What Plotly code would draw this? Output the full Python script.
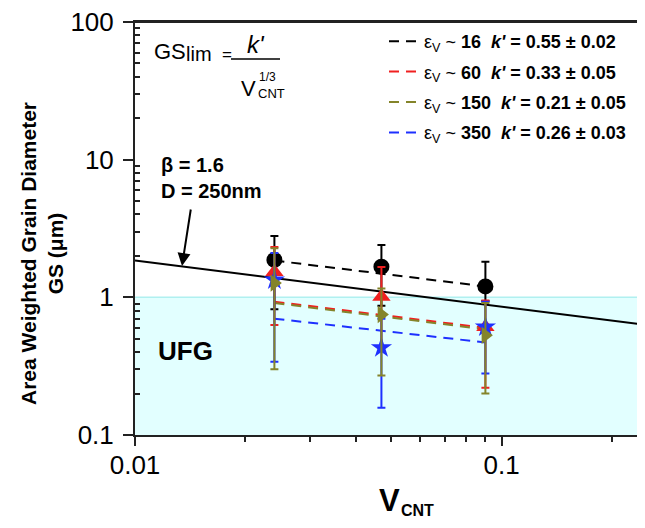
import plotly.graph_objects as go

# ---------------- data ----------------
v_cnt = [0.024, 0.047, 0.0903]

gs_16 = [1.87, 1.67, 1.20]
gs_16_hi = [2.79, 2.40, 1.81]
gs_16_lo = [0.82, 0.87, 0.94]

gs_60 = [1.53, 1.01, 0.61]
gs_60_hi = [2.32, 1.66, 0.95]
gs_60_lo = [0.63, 0.43, 0.22]

gs_150 = [1.27, 0.75, 0.53]
gs_150_hi = [2.27, 1.16, 0.91]
gs_150_lo = [0.30, 0.27, 0.20]

gs_350 = [1.34, 0.43, 0.61]
gs_350_hi = [2.10, 0.70, 0.93]
gs_350_lo = [0.34, 0.158, 0.28]

fit_x = [0.024, 0.0903]
fit_16 = [1.85, 1.20]
fit_60 = [0.93, 0.60]
fit_150 = [0.91, 0.585]
fit_350 = [0.70, 0.47]

limit_x = [0.01, 0.25]
limit_gs = [1.85, 0.63]

legend_names = [
    "ε<sub>V</sub> ~ <b>16</b>\u00a0\u00a0<b><i>k'</i> = 0.55 ± 0.02</b>",
    "ε<sub>V</sub> ~ <b>60</b>\u00a0\u00a0<b><i>k'</i> = 0.33 ± 0.05</b>",
    "ε<sub>V</sub> ~ <b>150</b>\u00a0\u00a0<b><i>k'</i> = 0.21 ± 0.05</b>",
    "ε<sub>V</sub> ~ <b>350</b>\u00a0\u00a0<b><i>k'</i> = 0.26 ± 0.03</b>",
]

# ---------------- styling ----------------
FONT = "Liberation Sans, Arial, Helvetica, sans-serif"
BLACK = "#000000"
RED = "#f02020"
OLIVE = "#84842a"
BLUE = "#1e30ff"
DASH = "10px,7px"

# the page adds an 8px body margin; the figure is sized so the plot area
# lands at page pixels x 135..645, y 22..435
W, H = 637, 512
L, R, T, B = 127, 0, 14, 85
PX0, PX1, PY0, PY1 = 135, 645, 22, 435


def px(x):
    return (x - PX0) / (PX1 - PX0)


def py(y):
    return (PY1 - y) / (PY1 - PY0)


fig = go.Figure()

# fitted dashed lines (legend entries)
for ys, col, name in [(fit_16, BLACK, legend_names[0]), (fit_60, RED, legend_names[1]),
                      (fit_150, OLIVE, legend_names[2]), (fit_350, BLUE, legend_names[3])]:
    fig.add_trace(go.Scatter(x=fit_x, y=ys, mode="lines", name=name, legendgroup=name,
                             line=dict(color=col, width=2, dash=DASH)))

# GS_lim solid line
fig.add_trace(go.Scatter(x=limit_x, y=limit_gs, mode="lines", showlegend=False,
                         line=dict(color=BLACK, width=2)))

# data points with error bars
series = [
    (gs_16, gs_16_hi, gs_16_lo, BLACK, "circle", 16),
    (gs_60, gs_60_hi, gs_60_lo, RED, "triangle-up", 16),
    (gs_350, gs_350_hi, gs_350_lo, BLUE, "star", 16),
    (gs_150, gs_150_hi, gs_150_lo, OLIVE, "triangle-right", 15),
]
for ys, hi, lo, col, sym, sz in series:
    fig.add_trace(go.Scatter(
        x=v_cnt, y=ys, mode="markers", showlegend=False,
        marker=dict(color=col, symbol=sym, size=sz, line=dict(width=0)),
        error_y=dict(type="data", symmetric=False,
                     array=[h - v for h, v in zip(hi, ys)],
                     arrayminus=[v - l for v, l in zip(ys, lo)],
                     color=col, thickness=2, width=4)))

# UFG band
fig.add_shape(type="rect", xref="x domain", yref="y domain", x0=0, x1=1, y0=0, y1=1 / 3,
              fillcolor="#e2ffff", line=dict(width=0), layer="below")
fig.add_shape(type="line", xref="x domain", yref="y domain", x0=0, x1=1, y0=1 / 3, y1=1 / 3,
              line=dict(color="#b0f0f0", width=1.5), layer="below")
# top frame line
fig.add_shape(type="line", xref="x domain", yref="y domain", x0=0, x1=1, y0=1, y1=1,
              line=dict(color="#222", width=2))

# formula
fig.add_annotation(x=px(152), y=py(52), xref="paper", yref="paper", xanchor="left", yanchor="middle",
                   text="GS", showarrow=False, font=dict(family=FONT, size=22, color="black"))
fig.add_annotation(x=px(184), y=py(54), xref="paper", yref="paper", xanchor="left", yanchor="middle",
                   text="lim", showarrow=False, font=dict(family=FONT, size=20, color="black"))
fig.add_annotation(x=px(220), y=py(55), xref="paper", yref="paper", xanchor="left", yanchor="middle",
                   text="=", showarrow=False, font=dict(family=FONT, size=17, color="black"))
fig.add_shape(type="line", xref="paper", yref="paper", x0=px(231), x1=px(280), y0=py(59), y1=py(59),
              line=dict(color="black", width=1.5))
fig.add_annotation(x=px(256), y=py(44), xref="paper", yref="paper", xanchor="center", yanchor="middle",
                   text="<i>k'</i>", showarrow=False, font=dict(family=FONT, size=24, color="black"))
fig.add_annotation(x=px(248), y=py(88), xref="paper", yref="paper", xanchor="center", yanchor="middle",
                   text="V", showarrow=False, font=dict(family=FONT, size=22, color="black"))
fig.add_annotation(x=px(257), y=py(77), xref="paper", yref="paper", xanchor="left", yanchor="middle",
                   text="1/3", showarrow=False, font=dict(family=FONT, size=12, color="black"))
fig.add_annotation(x=px(256), y=py(93), xref="paper", yref="paper", xanchor="left", yanchor="middle",
                   text="CNT", showarrow=False, font=dict(family=FONT, size=13, color="black"))

# beta / D annotation with arrow
fig.add_annotation(x=px(159), y=py(165), xref="paper", yref="paper", xanchor="left", yanchor="middle",
                   text="<b>β = 1.6</b>", showarrow=False, font=dict(family=FONT, size=20, color="black"))
fig.add_annotation(x=px(159), y=py(191), xref="paper", yref="paper", xanchor="left", yanchor="middle",
                   text="<b>D = 250nm</b>", showarrow=False, font=dict(family=FONT, size=20, color="black"))
fig.add_annotation(x=px(182), y=py(266), xref="paper", yref="paper", ax=9, ay=-58, text="",
                   showarrow=True, arrowhead=2, arrowsize=1.3, arrowwidth=2, arrowcolor="black")

# UFG label
fig.add_annotation(x=px(185), y=py(351), xref="paper", yref="paper", xanchor="center", yanchor="middle",
                   text="<b>UFG</b>", showarrow=False, font=dict(family=FONT, size=26, color="black"))

# axis titles
fig.add_annotation(x=px(42), y=py(254), xref="paper", yref="paper", xanchor="center", yanchor="middle",
                   textangle=-90, showarrow=False,
                   text="<b>Area Weighted Grain Diameter<br>GS (μm)</b>",
                   font=dict(family=FONT, size=21, color="black"))
fig.add_annotation(x=px(389), y=py(501), xref="paper", yref="paper", xanchor="center", yanchor="middle",
                   showarrow=False, text="<b>V</b>",
                   font=dict(family=FONT, size=31, color="black"))
fig.add_annotation(x=px(399), y=py(511), xref="paper", yref="paper", xanchor="left", yanchor="middle",
                   showarrow=False, text="<b>CNT</b>",
                   font=dict(family=FONT, size=16, color="black"))

axis_common = dict(showgrid=False, zeroline=False, showline=True, linecolor="#222", linewidth=2,
                   tickfont=dict(family=FONT, size=26, color="black"), tickcolor="#222", tickwidth=1.5,
                   automargin=False, ticklabeloverflow="allow")

fig.update_xaxes(type="log", range=[-2, -0.609], ticks="outside", ticklen=9,
                 tickvals=[0.01, 0.1], ticktext=["0.01", "0.1"],
                 minor=dict(ticks="outside", ticklen=5, tickcolor="#222", tickwidth=1.5,
                            tickvals=[0.02, 0.03, 0.04, 0.05, 0.06, 0.07, 0.08, 0.09, 0.2]),
                 mirror=True, ticklabelstandoff=-3, **axis_common)
fig.update_yaxes(type="log", range=[-1, 2], ticks="outside", ticklen=10,
                 tickvals=[0.1, 1, 10, 100], ticktext=["0.1", "1", "10", "100"],
                 minor=dict(ticks="inside", ticklen=5, tickcolor="#222", tickwidth=1.5,
                            tickvals=[0.2, 0.3, 0.4, 0.5, 0.6, 0.7, 0.8, 0.9,
                                      2, 3, 4, 5, 6, 7, 8, 9,
                                      20, 30, 40, 50, 60, 70, 80, 90]),
                 mirror=False, ticklabelstandoff=4, **axis_common)

fig.update_layout(
    width=W, height=H,
    margin=dict(l=L, r=R, t=T, b=B, pad=0, autoexpand=False),
    paper_bgcolor="white", plot_bgcolor="white",
    font=dict(family=FONT, color="black"),
    legend=dict(x=px(384), y=py(23), xanchor="left", yanchor="top",
                bgcolor="rgba(0,0,0,0)", borderwidth=0, itemwidth=30, tracegroupgap=4,
                font=dict(family=FONT, size=18, color="black")),
    showlegend=True,
)

fig.write_html("out.html")
